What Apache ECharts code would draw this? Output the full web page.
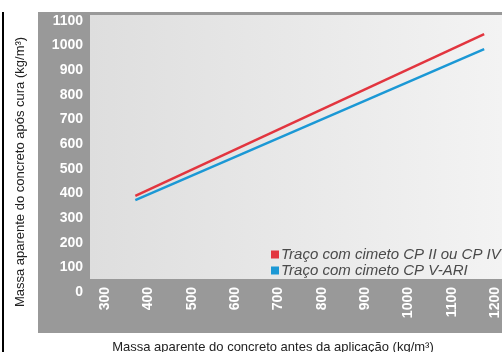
<!DOCTYPE html>
<html>
<head>
<meta charset="utf-8">
<script src="https://cdn.jsdelivr.net/npm/echarts@6/dist/echarts.min.js"></script>
<style>
  html, body { margin: 0; padding: 0; background: #fff; }
  #chart { width: 502px; height: 352px; }
</style>
</head>
<body>
<div id="chart"></div>
<script>
  // data
  var seriesNames = ['Traço com cimeto CP II ou CP IV', 'Traço com cimeto CP V-ARI']
  var redLine = [[370, 390], [1175, 1047]]
  var blueLine = [[370, 373], [1175, 986]]
  var xTicks = [300, 400, 500, 600, 700, 800, 900, 1000, 1100, 1200]
  var yTicks = [0, 100, 200, 300, 400, 500, 600, 700, 800, 900, 1000, 1100]

  var chart = echarts.init(document.getElementById('chart'))

  var plain = function (v) { return String(v) }

  chart.setOption({
    animation: false,
    backgroundColor: '#fff',
    textStyle: { fontFamily: 'Liberation Sans, Arial, sans-serif' },
    graphic: [
      // black rule on the left
      { type: 'rect', z: -10, shape: { x: 2, y: 12, width: 2, height: 340 }, style: { fill: '#000' } },
      // dark panel behind everything
      { type: 'rect', z: -10, shape: { x: 38, y: 12, width: 464, height: 321 }, style: { fill: '#999' } },
      // light plot area
      {
        type: 'rect', z: -9, shape: { x: 90, y: 15, width: 412, height: 264 },
        style: {
          fill: new echarts.graphic.LinearGradient(0, 0, 1, 0, [
            { offset: 0, color: '#dedede' },
            { offset: 1, color: '#f3f3f3' }
          ])
        }
      },
      {
        type: 'text',
        x: 20,
        y: 172,
        rotation: Math.PI / 2,
        style: {
          x: 0, y: 0,
          text: 'Massa aparente do concreto após cura (kg/m³)',
          fill: '#222', font: '13px Liberation Sans, Arial, sans-serif',
          align: 'center', verticalAlign: 'middle'
        }
      },
      {
        type: 'text',
        style: {
          x: 273, y: 347,
          text: 'Massa aparente do concreto antes da aplicação (kg/m³)',
          fill: '#222', font: '13px Liberation Sans, Arial, sans-serif',
          align: 'center', verticalAlign: 'middle'
        }
      }
    ],
    legend: {
      orient: 'vertical',
      left: 266,
      top: 242,
      itemWidth: 8,
      itemHeight: 8,
      itemGap: 1,
      icon: 'rect',
      data: seriesNames,
      textStyle: {
        fontSize: 15,
        fontStyle: 'italic',
        color: '#4a4a4a',
        padding: [0, 0, 0, -3]
      }
    },
    grid: {
      left: 105,
      right: 2,
      top: 21,
      bottom: 60,
      containLabel: false
    },
    xAxis: {
      type: 'value',
      min: xTicks[0],
      max: xTicks[xTicks.length - 1],
      interval: 100,
      offset: -13,
      axisLine: { show: false },
      axisTick: { show: false },
      splitLine: { show: false },
      axisLabel: {
        rotate: 90,
        margin: 8,
        color: '#fff',
        fontWeight: 'bold',
        fontSize: 14,
        formatter: plain
      }
    },
    yAxis: {
      type: 'value',
      min: yTicks[0],
      max: yTicks[yTicks.length - 1],
      interval: 100,
      axisLine: { show: false },
      axisTick: { show: false },
      splitLine: { show: false },
      axisLabel: {
        margin: 22,
        color: '#fff',
        fontWeight: 'bold',
        fontSize: 14,
        formatter: plain
      }
    },
    series: [
      {
        name: seriesNames[0],
        type: 'line',
        data: redLine,
        showSymbol: false,
        color: '#e2353f',
        lineStyle: { width: 2.5 }
      },
      {
        name: seriesNames[1],
        type: 'line',
        data: blueLine,
        showSymbol: false,
        color: '#1b98d5',
        lineStyle: { width: 2.5 }
      }
    ]
  })
</script>
</body>
</html>
